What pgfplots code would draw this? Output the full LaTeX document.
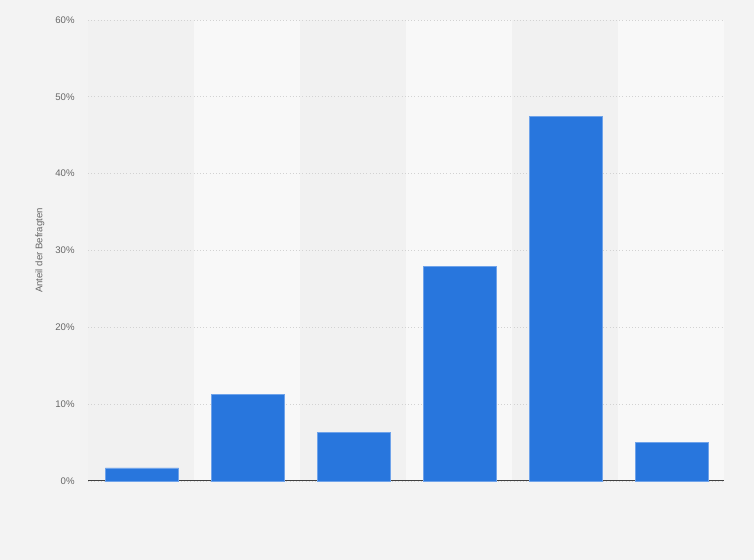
\documentclass[border=0pt]{standalone}
\usepackage{pgfplots}
\pgfplotsset{compat=1.18}
\usepackage{fontspec}
\setmainfont{Liberation Sans}

\definecolor{bg}{HTML}{F3F3F3}
\definecolor{bandlight}{HTML}{F8F8F8}
\definecolor{bandgray}{HTML}{F1F1F1}
\definecolor{barblue}{HTML}{2876DD}
\definecolor{baredge}{HTML}{6FA3EA}
\definecolor{gridc}{HTML}{D2D2D2}
\definecolor{labelc}{HTML}{666666}

\begin{document}
\begin{tikzpicture}
\useasboundingbox (0,0) rectangle (565.5pt,420pt);
\fill[bg] (0,0) rectangle (565.5pt,420pt);
% alternating column bands behind the axis
\foreach \i in {0,...,5} {
  \pgfmathsetmacro\xa{66+79.5*\i}
  \ifodd\i
    \fill[bandlight] (\xa pt,59.25pt) rectangle ++(79.5pt,345.75pt);
  \else
    \fill[bandgray] (\xa pt,59.25pt) rectangle ++(79.5pt,345.75pt);
  \fi
}
\begin{axis}[
    at={(66pt,59.25pt)},
    anchor=south west,
    scale only axis,
    width=477pt,
    height=345.75pt,
    xmin=-0.5, xmax=5.5,
    ymin=0, ymax=60,
    xtick=\empty,
    ytick={0,10,...,60},
    yticklabel={\pgfmathprintnumber{\tick}\%},
    /pgf/number format/assume math mode=true,
    tick label style={font=\fontsize{7.2}{8}\selectfont, text=labelc},
    yticklabel style={xshift=-6.5pt},
    major tick length=0pt,
    ymajorgrids=true,
    grid style={gridc, dotted, line width=0.6pt},
    axis x line=bottom,
    axis y line=left,
    y axis line style={draw=none},
    x axis line style={-, black!75, line width=0.75pt},
    ylabel={Anteil der Befragten},
    ylabel style={at={(axis description cs:-0.0755,0.5)}, anchor=center,
                  font=\fontsize{7.2}{8}\selectfont, text=labelc},
    ybar,
    bar width=0.69,
    bar shift=0.01,
    clip=false,
]
\addplot[fill=barblue, draw=baredge, line width=0.5pt]
    coordinates {(0,1.7) (1,11.3) (2,6.3) (3,27.9) (4,47.5) (5,5.0)};
\end{axis}
\end{tikzpicture}
\end{document}
